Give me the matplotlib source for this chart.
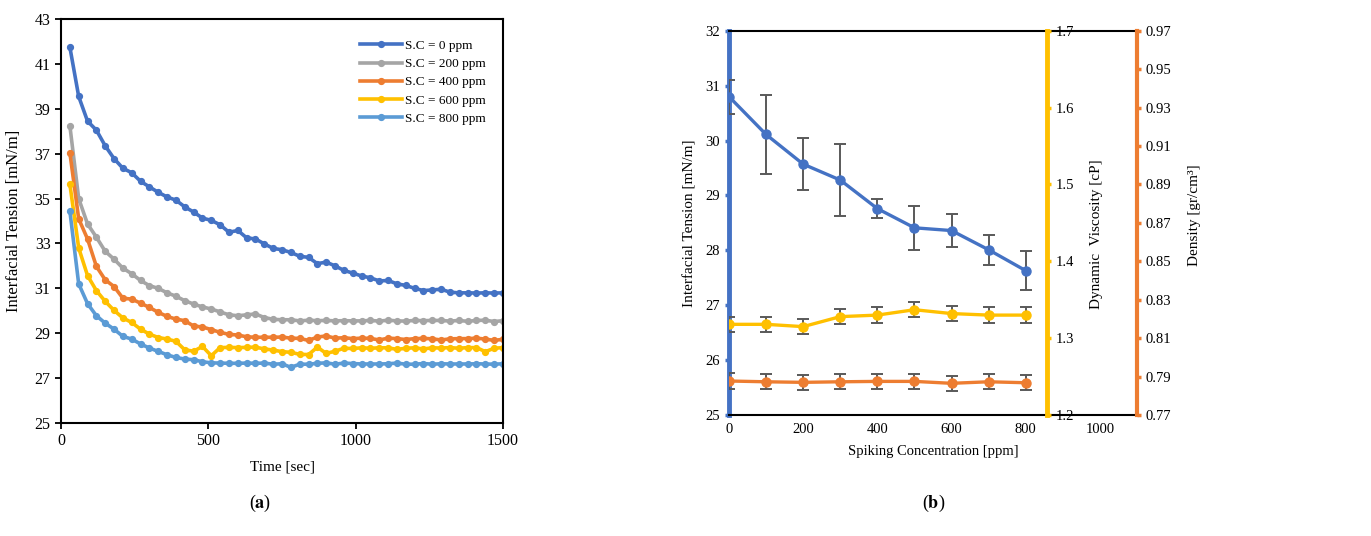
import matplotlib
matplotlib.use("Agg")
import matplotlib.pyplot as plt
import numpy as np

plt.rcParams["font.family"] = ["Liberation Serif", "DejaVu Serif"]
plt.rcParams["mathtext.fontset"] = "stix"

# ---- panel (a): IFT vs time for each spiking concentration ----
time_s = np.arange(30, 1501, 30)

ift_0 = [41.75, 39.55, 38.45, 38.05, 37.35, 36.78, 36.35, 36.15, 35.77, 35.52,
         35.28, 35.07, 34.93, 34.63, 34.40, 34.13, 34.03, 33.83, 33.50, 33.58,
         33.25, 33.20, 32.98, 32.78, 32.72, 32.60, 32.43, 32.38, 32.10, 32.17,
         32.00, 31.80, 31.68, 31.55, 31.47, 31.33, 31.35, 31.20, 31.13, 31.00,
         30.90, 30.93, 30.96, 30.83, 30.80, 30.80, 30.79, 30.80, 30.79, 30.80]
ift_200 = [38.25, 35.00, 33.87, 33.28, 32.65, 32.30, 31.90, 31.65, 31.35, 31.12,
           31.00, 30.80, 30.65, 30.45, 30.30, 30.17, 30.08, 29.95, 29.82, 29.78,
           29.82, 29.86, 29.70, 29.62, 29.60, 29.60, 29.55, 29.58, 29.56, 29.57,
           29.55, 29.56, 29.55, 29.55, 29.57, 29.54, 29.58, 29.55, 29.54, 29.57,
           29.56, 29.57, 29.57, 29.54, 29.57, 29.53, 29.57, 29.58, 29.52, 29.56]
ift_400 = [37.05, 34.10, 33.20, 31.98, 31.38, 31.08, 30.56, 30.52, 30.34, 30.15,
           29.93, 29.75, 29.63, 29.56, 29.32, 29.28, 29.16, 29.04, 28.95, 28.92,
           28.84, 28.82, 28.82, 28.82, 28.83, 28.78, 28.77, 28.68, 28.83, 28.88,
           28.78, 28.80, 28.76, 28.78, 28.77, 28.70, 28.78, 28.76, 28.72, 28.76,
           28.77, 28.75, 28.70, 28.75, 28.76, 28.76, 28.78, 28.74, 28.68, 28.73]
ift_600 = [35.65, 32.80, 31.57, 30.90, 30.42, 30.02, 29.68, 29.48, 29.18, 28.96,
           28.81, 28.74, 28.64, 28.26, 28.20, 28.41, 28.00, 28.36, 28.37, 28.36,
           28.37, 28.38, 28.30, 28.25, 28.18, 28.15, 28.06, 28.05, 28.38, 28.10,
           28.20, 28.33, 28.32, 28.35, 28.33, 28.35, 28.35, 28.28, 28.33, 28.35,
           28.30, 28.35, 28.34, 28.36, 28.33, 28.36, 28.36, 28.18, 28.33, 28.36]
ift_800 = [34.45, 31.20, 30.32, 29.78, 29.45, 29.18, 28.86, 28.74, 28.52, 28.34,
           28.19, 28.04, 27.92, 27.85, 27.82, 27.73, 27.68, 27.67, 27.66, 27.66,
           27.67, 27.66, 27.67, 27.62, 27.64, 27.48, 27.62, 27.62, 27.66, 27.68,
           27.62, 27.67, 27.65, 27.63, 27.63, 27.63, 27.64, 27.67, 27.62, 27.62,
           27.65, 27.62, 27.64, 27.63, 27.63, 27.63, 27.64, 27.63, 27.62, 27.64]

series_a = [ift_0, ift_200, ift_400, ift_600, ift_800]
labels_a = ["S.C = 0 ppm", "S.C = 200 ppm", "S.C = 400 ppm",
            "S.C = 600 ppm", "S.C = 800 ppm"]
colors_a = ["#4472C4", "#A5A5A5", "#ED7D31", "#FFC000", "#5B9BD5"]

# ---- panel (b): averages vs spiking concentration ----
conc = [0, 100, 200, 300, 400, 500, 600, 700, 800]
ift_mean = [30.80, 30.11, 29.57, 29.28, 28.76, 28.41, 28.36, 28.01, 27.63]
ift_err = [0.31, 0.72, 0.48, 0.66, 0.17, 0.40, 0.30, 0.27, 0.36]
visc = [1.318, 1.318, 1.315, 1.328, 1.330, 1.337, 1.332, 1.330, 1.330]
visc_err = [0.010] * 9
dens = [0.7877, 0.7873, 0.7870, 0.7873, 0.7875, 0.7875, 0.7865, 0.7873, 0.7868]
dens_err = [0.004] * 9

fig = plt.figure(figsize=(13.71, 5.36), dpi=100)

# panel (a)
ax = fig.add_axes([0.0445, 0.2108, 0.3224, 0.7537])
for vals, lab, col in zip(series_a, labels_a, colors_a):
    ax.plot(time_s, vals, color=col, lw=2.6, marker="o", ms=4.2, label=lab)
ax.set_xlim(0, 1500)
ax.set_ylim(25, 43)
ax.set_xticks([0, 500, 1000, 1500])
ax.set_yticks(np.arange(25, 44, 2))
ax.tick_params(direction="out", length=4, width=1.3, labelsize=11.5)
for sp in ax.spines.values():
    sp.set_linewidth(1.5)
ax.set_xlabel("Time [sec]", fontsize=11, labelpad=8)
ax.set_ylabel("Interfacial Tension [mN/m]", fontsize=12)
ax.yaxis.set_label_coords(-0.088, 0.5)
ax.legend(loc="upper right", bbox_to_anchor=(0.975, 0.965), frameon=False,
          fontsize=9.5, handlelength=3.2, handletextpad=0.2, labelspacing=0.45,
          borderpad=0)

# panel (b)
bx = fig.add_axes([0.5317, 0.2257, 0.2976, 0.717])
bx.errorbar(conc, ift_mean, yerr=ift_err, color="#4472C4", lw=2.4, marker="o",
            ms=6.5, ecolor="#595959", elinewidth=1.4, capsize=4, capthick=1.4,
            zorder=3)
bx.set_xlim(0, 1100)
bx.set_ylim(25, 32)
bx.set_xticks([0, 200, 400, 600, 800, 1000])
bx.set_yticks(np.arange(25, 33, 1))
bx.tick_params(axis="x", length=0, labelsize=10.5, pad=6)
bx.tick_params(axis="y", direction="out", length=3, width=2.5,
               color="#4472C4", labelsize=10.5)
bx.spines["left"].set_color("#4472C4")
bx.spines["left"].set_linewidth(3.5)
bx.spines["right"].set_visible(False)
bx.spines["top"].set_linewidth(1.5)
bx.spines["bottom"].set_linewidth(1.5)
bx.set_xlabel("Spiking Concentration [ppm]", fontsize=10.5, labelpad=6)
bx.set_ylabel("Interfacial Tension [mN/m]", fontsize=11)
bx.yaxis.set_label_coords(-0.08, 0.5)

vx = bx.twinx()
vx.errorbar(conc, visc, yerr=visc_err, color="#FFC000", lw=2.4, marker="o",
            ms=6.5, ecolor="#595959", elinewidth=1.4, capsize=4, capthick=1.4)
vx.set_ylim(1.2, 1.7)
vx.set_yticks(np.arange(1.2, 1.71, 0.1))
vx.set_yticklabels([f"{v:.1f}" for v in np.arange(1.2, 1.71, 0.1)])
vx.spines["right"].set_position(("axes", 0.779))
vx.spines["right"].set_color("#FFC000")
vx.spines["right"].set_linewidth(3.5)
for s in ("left", "top", "bottom"):
    vx.spines[s].set_visible(False)
vx.tick_params(axis="y", direction="out", length=3, width=2.5,
               color="#FFC000", labelsize=10.5)
vx.set_ylabel("Dynamic  Viscosity [cP]", fontsize=11)
vx.yaxis.set_label_coords(0.885, 0.47)

dx = bx.twinx()
dx.errorbar(conc, dens, yerr=dens_err, color="#ED7D31", lw=2.4, marker="o",
            ms=6.5, ecolor="#595959", elinewidth=1.4, capsize=4, capthick=1.4)
dx.set_ylim(0.77, 0.97)
dx.set_yticks(np.arange(0.77, 0.971, 0.02))
dx.set_yticklabels([f"{v:.2f}" for v in np.arange(0.77, 0.971, 0.02)])
dx.spines["right"].set_color("#ED7D31")
dx.spines["right"].set_linewidth(3)
for s in ("left", "top", "bottom"):
    dx.spines[s].set_visible(False)
dx.tick_params(axis="y", direction="out", length=3, width=2.5,
               color="#ED7D31", labelsize=10.5)
dx.set_ylabel("Density [gr/cm³]", fontsize=11)
dx.yaxis.set_label_coords(1.125, 0.52)

fig.text(0.19, 0.052, r"($\mathbf{a}$)", fontsize=13, ha="center")
fig.text(0.681, 0.052, r"($\mathbf{b}$)", fontsize=13, ha="center")

fig.savefig("out.png", dpi=100)
